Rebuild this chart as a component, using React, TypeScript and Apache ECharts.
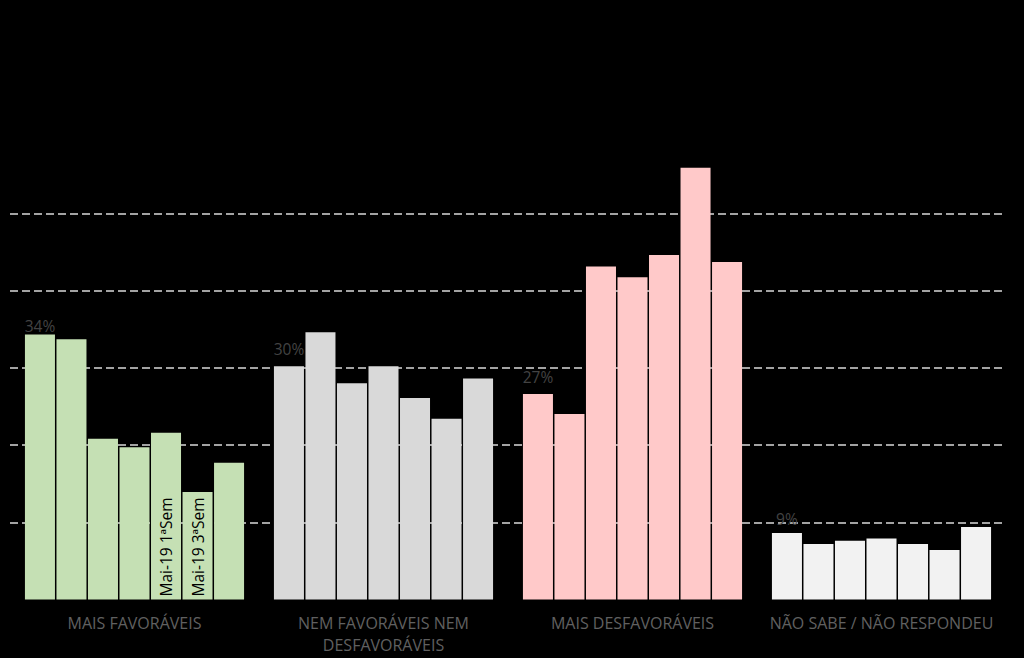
import React, { useEffect, useRef } from "react";
import * as echarts from "echarts";

const categories = [
  "MAIS FAVORÁVEIS",
  "NEM FAVORÁVEIS NEM\nDESFAVORÁVEIS",
  "MAIS DESFAVORÁVEIS",
  "NÃO SABE / NÃO RESPONDEU",
];

const seriesNames = [
  "Jan-19",
  "Fev-19",
  "Mar-19",
  "Abr-19",
  "Mai-19 1ªSem",
  "Mai-19 3ªSem",
  "Jun-19",
];

// values per series (one value per category), in %
const s1 = [34.3, 30.2, 26.6, 8.6];
const s2 = [33.7, 34.6, 24.0, 7.2];
const s3 = [20.8, 28.0, 43.1, 7.6];
const s4 = [19.7, 30.2, 41.7, 7.9];
const s5 = [21.6, 26.1, 44.6, 7.2];
const s6 = [13.9, 23.4, 55.9, 6.4];
const s7 = [17.7, 28.6, 43.7, 9.4];

const categoryColors = ["#c5e0b4", "#d9d9d9", "#ffc9c9", "#f2f2f2"];
const yTicks = [0, 10, 20, 30, 40, 50, 60];

export default function App() {
  const ref = useRef<HTMLDivElement>(null);

  useEffect(() => {
    if (!ref.current) return;
    const chart = echarts.init(ref.current, null, { renderer: "svg" });
    const all = [s1, s2, s3, s4, s5, s6, s7];
    const labelDist = [1, 9, 9, 6];
    const font = "'Open Sans', 'Noto Sans', sans-serif";

    const series = all.map((vals, si) => ({
      type: "bar",
      name: seriesNames[si],
      barGap: "5%",
      barCategoryGap: "12%",
      data: vals.map((v, ci) => {
        const item: any = {
          value: v,
          itemStyle: { color: categoryColors[ci] },
        };
        if (si === 0) {
          item.label = {
            show: true,
            position: "top",
            distance: labelDist[ci],
            color: "#434343",
            fontSize: 15.5,
            fontFamily: font,
            formatter: (p: any) => Math.round(p.value) + "%",
          };
        }
        if ((si === 4 || si === 5) && ci === 0) {
          item.label = {
            show: true,
            position: "insideBottom",
            rotate: 90,
            align: "left",
            verticalAlign: "middle",
            distance: 3,
            color: "#000000",
            fontSize: 15.5,
            fontFamily: font,
            formatter: () => seriesNames[si],
          };
        }
        return item;
      }),
    }));

    chart.setOption({
      animation: false,
      backgroundColor: "#000000",
      grid: { left: 10, right: 18, top: 136, bottom: 58.5, containLabel: false },
      xAxis: {
        type: "category",
        data: categories,
        axisLine: { show: false },
        axisTick: { show: false },
        axisLabel: {
          color: "#606060",
          fontSize: 16,
          fontFamily: font,
          margin: 12,
          lineHeight: 22,
          interval: 0,
        },
      },
      yAxis: {
        type: "value",
        min: yTicks[0],
        max: yTicks[yTicks.length - 1],
        interval: 10,
        axisLabel: { show: false },
        axisLine: { show: false },
        axisTick: { show: false },
        splitLine: {
          show: true,
          showMinLine: false,
          showMaxLine: false,
          lineStyle: { color: "#d9d9d9", type: [8, 4], width: 1.5 },
        },
      },
      series,
    });

    return () => chart.dispose();
  }, []);

  return (
    <div
      ref={ref}
      style={{
        position: "fixed",
        left: 0,
        top: 0,
        width: 1024,
        height: 658,
        background: "#000",
      }}
    />
  );
}
